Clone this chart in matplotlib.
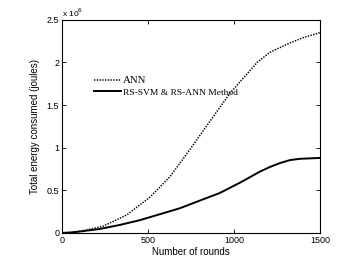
import matplotlib
matplotlib.use("Agg")
import matplotlib.pyplot as plt

# ---- Data (energy in units of 1e6 joules) ----
ann_rounds = [0, 60, 122, 240, 376, 512, 628, 744, 860, 977, 1060,
              1134, 1209, 1326, 1400, 1500]
ann = [0, 0.005, 0.025, 0.08, 0.21, 0.42, 0.66, 0.98, 1.31, 1.64, 1.83,
       2.00, 2.12, 2.23, 2.29, 2.35]

rs_rounds = [0, 50, 110, 221, 337, 453, 570, 686, 802, 919, 1035,
             1151, 1210, 1267, 1326, 1384, 1500]
rs_method = [0, 0.005, 0.018, 0.047, 0.094, 0.15, 0.22, 0.29, 0.38, 0.47,
             0.59, 0.72, 0.775, 0.82, 0.855, 0.87, 0.88]

xticks = [0, 500, 1000, 1500]
yticks = [0, 0.5, 1, 1.5, 2, 2.5]
ytick_labels = ["0", "0.5", "1", "1.5", "2", "2.5"]

# ---- Figure ----
fig = plt.figure(figsize=(3.6, 2.65), dpi=100)
ax = fig.add_axes([0.172, 0.121, 0.717, 0.804])

ax.plot(ann_rounds, ann, color="black", linestyle=(0, (0.9, 0.9)),
        linewidth=1.1, label="ANN")
ax.plot(rs_rounds, rs_method, color="black", linestyle="-", linewidth=1.4,
        label="RS-SVM & RS-ANN Method")

ax.set_xlim(0, 1500)
ax.set_ylim(0, 2.5)
ax.set_xticks(xticks)
ax.set_yticks(yticks)
ax.set_yticklabels(ytick_labels)
ax.tick_params(direction="in", top=True, right=True, labelsize=6.5, length=3,
               width=0.6, pad=2)
for lbl in ax.get_xticklabels() + ax.get_yticklabels():
    lbl.set_family("Liberation Sans")
for s in ax.spines.values():
    s.set_linewidth(0.8)

ax.set_xlabel("Number of rounds", fontsize=7, family="Liberation Sans", labelpad=2)
ax.set_ylabel("Total energy consumed (joules)", fontsize=7,
              family="Liberation Sans", labelpad=5)
ax.text(0.0, 1.005, "x 10$^6$", transform=ax.transAxes, fontsize=6,
        family="Liberation Sans", va="bottom", ha="left")

leg = ax.legend(loc="upper left", bbox_to_anchor=(0.108, 0.755), frameon=False,
                prop={"family": "Liberation Serif", "size": 6.8},
                handlelength=2.9, handletextpad=0.2, labelspacing=0.35,
                borderaxespad=0)
leg.get_texts()[0].set_fontsize(7.8)

fig.savefig("out.png", dpi=100)
